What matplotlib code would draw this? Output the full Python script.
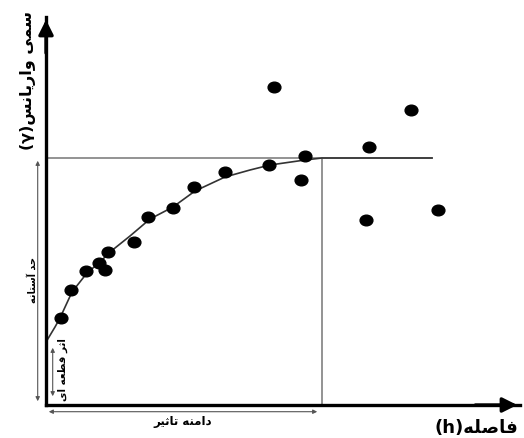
import matplotlib
matplotlib.use('Agg')
import matplotlib.pyplot as plt
import numpy as np
from matplotlib.path import Path

# sample semivariance points (h, gamma)
h_pts = [14.7, 24.7, 39.7, 53, 59, 62, 88, 102, 127, 148, 179, 223.3, 228.3,
         259, 254.7, 323, 320, 365, 392.3]
g_pts = [86.7, 115.5, 133.7, 142, 135, 153.3, 163, 188, 197, 218, 233.3, 240,
         318.3, 249.3, 224.7, 258.3, 185.3, 295, 195.3]

# fitted model curve
h_curve = [0, 9, 14, 26, 41, 54, 64, 84, 104, 127, 149, 179, 204, 224, 259, 276, 386]
g_curve = [63, 78, 87, 113, 132, 143, 153, 169, 186, 198, 214, 228, 235, 240, 245, 247, 247]

nugget = 63
sill = 247
range_h = 276

label_y = 'سمی واریانس'
label_x = 'فاصله'
label_sill = 'حد آستانه'
label_nugget = 'اثر قطعه ای'
label_range = 'دامنه تاثیر'

# contextual forms: (isolated, final, initial, medial); right-joining letters have two
FORMS = {
    'ا': ('\ufe8d', '\ufe8e'), 'آ': ('\ufe81', '\ufe82'),
    'د': ('\ufea9', '\ufeaa'), 'ر': ('\ufead', '\ufeae'), 'و': ('\ufeed', '\ufeee'),
    'ت': ('\ufe95', '\ufe96', '\ufe97', '\ufe98'),
    'ث': ('\ufe99', '\ufe9a', '\ufe9b', '\ufe9c'),
    'ح': ('\ufea1', '\ufea2', '\ufea3', '\ufea4'),
    'س': ('\ufeb1', '\ufeb2', '\ufeb3', '\ufeb4'),
    'ص': ('\ufeb9', '\ufeba', '\ufebb', '\ufebc'),
    'ط': ('\ufec1', '\ufec2', '\ufec3', '\ufec4'),
    'ع': ('\ufec9', '\ufeca', '\ufecb', '\ufecc'),
    'ف': ('\ufed1', '\ufed2', '\ufed3', '\ufed4'),
    'ق': ('\ufed5', '\ufed6', '\ufed7', '\ufed8'),
    'ل': ('\ufedd', '\ufede', '\ufedf', '\ufee0'),
    'م': ('\ufee1', '\ufee2', '\ufee3', '\ufee4'),
    'ن': ('\ufee5', '\ufee6', '\ufee7', '\ufee8'),
    'ه': ('\ufee9', '\ufeea', '\ufeeb', '\ufeec'),
    'ی': ('\ufbfc', '\ufbfd', '\ufbfe', '\ufbff'),
}


def shape(text):
    out = []
    for i, ch in enumerate(text):
        if ch not in FORMS:
            out.append(ch)
            continue
        forms = FORMS[ch]
        prev = text[i - 1] if i > 0 else None
        nxt = text[i + 1] if i + 1 < len(text) else None
        jp = prev in FORMS and len(FORMS[prev]) == 4
        jn = len(forms) == 4 and nxt in FORMS
        if jp and jn:
            out.append(forms[3])
        elif jp:
            out.append(forms[1])
        elif jn:
            out.append(forms[2])
        else:
            out.append(forms[0])
    return ''.join(reversed(out))


plt.rcParams['font.family'] = ['DejaVu Sans']

fig = plt.figure(figsize=(5.24, 4.39), dpi=100)
ax = fig.add_axes([46 / 524, 33 / 439, 474 / 524, 388 / 439])
ax.set_xlim(0, 474)
ax.set_ylim(0, 388)
ax.set_xticks([])
ax.set_yticks([])
for s in ['top', 'right']:
    ax.spines[s].set_visible(False)
for s in ['left', 'bottom']:
    ax.spines[s].set_linewidth(2.4)

# axis arrowheads
ax.annotate('', xy=(1.0, 0), xytext=(0.9, 0), xycoords='axes fraction',
            arrowprops=dict(arrowstyle='-|>', color='black', lw=2.4, mutation_scale=22))
ax.annotate('', xy=(0, 1.0), xytext=(0, 0.9), xycoords='axes fraction',
            arrowprops=dict(arrowstyle='-|>', color='black', lw=2.4, mutation_scale=22))

# sill and range guide lines
ax.plot([0, h_curve[-1]], [sill, sill], color='#8a8a8a', lw=1.3)
ax.plot([range_h, range_h], [0, sill], color='#8a8a8a', lw=1.3)

# model curve and points
ax.plot(h_curve, g_curve, color='#333333', lw=1.2)
ell = Path(Path.unit_circle().vertices * [1.2, 1.0], Path.unit_circle().codes)
ax.plot(h_pts, g_pts, linestyle='none', marker=ell, markersize=9.2, color='black')

# dimension arrows
dim = dict(arrowstyle='<|-|>', color='#555555', lw=0.8, mutation_scale=6)
ax.annotate('', xy=(-8.3, sill), xytext=(-8.3, 1), arrowprops=dim, annotation_clip=False)
ax.annotate('', xy=(6.7, nugget - 3), xytext=(6.7, 6), arrowprops=dim, annotation_clip=False)
ax.annotate('', xy=(0, -6.7), xytext=(range_h - 2, -6.7), arrowprops=dim, annotation_clip=False)

# labels
ax.text(-18, 326, '(γ)' + shape(label_y), rotation=90, ha='center', va='center',
        fontsize=11.5, fontweight='bold', clip_on=False)
ax.text(430, -22, '(h)' + shape(label_x), ha='center', va='center',
        fontsize=13, fontweight='bold', clip_on=False)
ax.text(-13, 126, shape(label_sill), rotation=90, ha='center', va='center',
        fontsize=7, fontweight='bold', clip_on=False)
ax.text(17, 36, shape(label_nugget), rotation=90, ha='center', va='center',
        fontsize=7.5, fontweight='bold', clip_on=False)
ax.text(137, -16, shape(label_range), ha='center', va='center',
        fontsize=8.5, fontweight='bold', clip_on=False)

fig.savefig('out.png', dpi=100)
